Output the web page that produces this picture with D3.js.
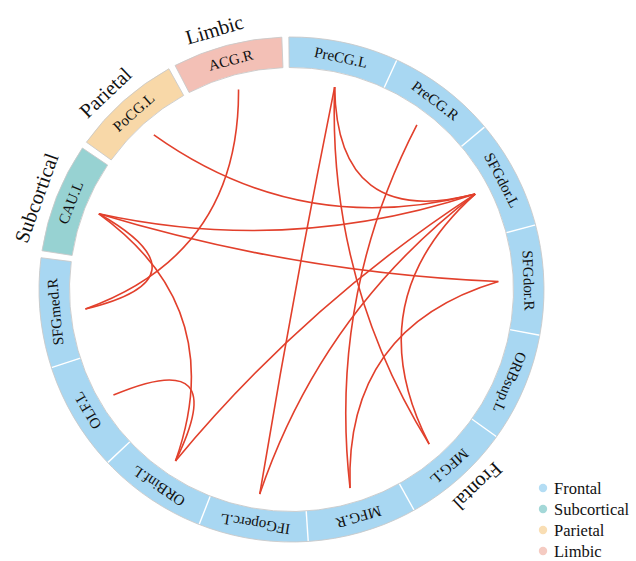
<!DOCTYPE html>
<html>
<head>
<meta charset="utf-8">
<script src="https://cdn.jsdelivr.net/npm/d3@7"></script>
<style>
  html, body { margin: 0; padding: 0; background: #ffffff; }
  svg { display: block; }
</style>
</head>
<body>
<svg id="chart" width="636" height="561"></svg>
<script>
// Brain regions around the ring, in clockwise order starting at 12 o'clock
const regions = [
  "PreCG.L", "PreCG.R", "SFGdor.L", "SFGdor.R", "ORBsup.L", "MFG.L", "MFG.R",
  "IFGoperc.L", "ORBinf.L", "OLF.L", "SFGmed.R", "CAU.L", "PoCG.L", "ACG.R"
];
const regionGroups = [
  "Frontal", "Frontal", "Frontal", "Frontal", "Frontal", "Frontal", "Frontal",
  "Frontal", "Frontal", "Frontal", "Frontal", "Subcortical", "Parietal", "Limbic"
];

// Lobes and their colours
const groups = ["Frontal", "Subcortical", "Parietal", "Limbic"];
const groupColors = ["#A8D7F2", "#97D2D2", "#F8D8A8", "#F3C0B6"];
const legendColors = ["#B4DDF4", "#A4D8D8", "#F9DEB4", "#F5CBC2"];

// Connections between regions
const linkSources = [
  "ACG.R", "PoCG.L", "CAU.L", "CAU.L", "CAU.L", "CAU.L", "OLF.L", "ORBinf.L",
  "IFGoperc.L", "IFGoperc.L", "MFG.R", "MFG.R", "MFG.L", "MFG.L", "PreCG.L"
];
const linkTargets = [
  "SFGmed.R", "SFGdor.L", "SFGdor.L", "SFGdor.R", "SFGmed.R", "ORBinf.L", "ORBinf.L", "SFGdor.L",
  "PreCG.L", "SFGdor.L", "PreCG.R", "SFGdor.R", "PreCG.L", "SFGdor.L", "SFGdor.L"
];

// ---- geometry ----
const cx = 291.5, cy = 289.5;
const rOuter = 252.5, rInner = 222, rLink = 207;
const rad = Math.PI / 180;
const groupGap = 1.6 * rad;            // gap between lobes
const startAngle = -0.6 * rad;          // where the first region begins
const segWidth = (2 * Math.PI - groups.length * groupGap) / regions.length;

// angular layout of each region
const layout = [];
{
  let a = startAngle;
  regions.forEach((name, i) => {
    if (i > 0 && regionGroups[i] !== regionGroups[i - 1]) a += groupGap;
    layout.push({ name, group: regionGroups[i], start: a, end: a + segWidth, mid: a + segWidth / 2 });
    a += segWidth;
  });
}
const byName = new Map(layout.map(d => [d.name, d]));
const color = d3.scaleOrdinal().domain(groups).range(groupColors);
const legendColor = d3.scaleOrdinal().domain(groups).range(legendColors);

// group extents
const groupLayout = groups.map(g => {
  const segs = layout.filter(d => d.group === g);
  const start = d3.min(segs, d => d.start), end = d3.max(segs, d => d.end);
  return { group: g, start, end, mid: (start + end) / 2, segs };
});

const svg = d3.select("#chart");
const root = svg.append("g").attr("transform", `translate(${cx},${cy})`);

const arc = d3.arc().innerRadius(rInner).outerRadius(rOuter);
const polar = (r, a) => [r * Math.sin(a), -r * Math.cos(a)];

// ---- links ----
const linkData = linkSources.map((s, i) => ({ source: byName.get(s), target: byName.get(linkTargets[i]) }));
const bend = 0.4; // control point sits at this fraction of the chord midpoint
root.append("g").attr("class", "links")
  .selectAll("path").data(linkData).join("path")
  .attr("d", d => {
    const p0 = polar(rLink, d.source.mid);
    const p1 = polar(rLink, d.target.mid);
    const c = [(p0[0] + p1[0]) / 2 * bend, (p0[1] + p1[1]) / 2 * bend];
    const p = d3.path();
    p.moveTo(p0[0], p0[1]);
    p.quadraticCurveTo(c[0], c[1], p1[0], p1[1]);
    return p.toString();
  })
  .attr("fill", "none")
  .attr("stroke", "#E2402C")
  .attr("stroke-width", 1.6);

// ---- ring segments ----
const ring = root.append("g").attr("class", "ring");
ring.selectAll("path.seg").data(layout).join("path")
  .attr("class", "seg")
  .attr("d", d => arc({ startAngle: d.start, endAngle: d.end }))
  .attr("fill", d => color(d.group));

// white separators between neighbouring regions of the same lobe
const seps = layout.filter((d, i) => i > 0 && layout[i - 1].group === d.group);
ring.selectAll("line.sep").data(seps).join("line")
  .attr("class", "sep")
  .attr("x1", d => polar(rInner, d.start)[0]).attr("y1", d => polar(rInner, d.start)[1])
  .attr("x2", d => polar(rOuter, d.start)[0]).attr("y2", d => polar(rOuter, d.start)[1])
  .attr("stroke", "#ffffff").attr("stroke-width", 1.4);

// soft outline around each lobe
ring.selectAll("path.outline").data(groupLayout).join("path")
  .attr("class", "outline")
  .attr("d", d => arc({ startAngle: d.start, endAngle: d.end }))
  .attr("fill", "none")
  .attr("stroke", "#c9c9c9")
  .attr("stroke-width", 0.9);

// region labels, written along the ring
const rLabel = (rInner + rOuter) / 2;
ring.selectAll("text.region").data(layout).join("text")
  .attr("class", "region")
  .attr("transform", d => `rotate(${d.mid / rad}) translate(0,${-rLabel})`)
  .attr("text-anchor", "middle")
  .attr("dominant-baseline", "central")
  .attr("font-family", "'Liberation Serif', 'Times New Roman', serif")
  .attr("font-size", 15)
  .attr("fill", "#111")
  .text(d => d.name);

// lobe names outside the ring
const rGroup = 271;
const groupShift = -1.7 * rad;
root.append("g").attr("class", "group-labels")
  .selectAll("text").data(groupLayout).join("text")
  .attr("transform", d => `rotate(${(d.mid + groupShift) / rad}) translate(0,${-rGroup})`)
  .attr("text-anchor", "middle")
  .attr("dominant-baseline", "central")
  .attr("font-family", "'Liberation Serif', 'Times New Roman', serif")
  .attr("font-size", 20.5)
  .attr("fill", "#111")
  .text(d => d.group);

// ---- legend ----
const legend = svg.append("g").attr("transform", "translate(543,488)");
const legendY = d3.scalePoint().domain(groups).range([0, 63]);
const items = legend.selectAll("g").data(groups).join("g")
  .attr("transform", d => `translate(0,${legendY(d)})`);
items.append("circle").attr("r", 4.2).attr("fill", d => legendColor(d));
items.append("text")
  .attr("x", 11)
  .attr("dominant-baseline", "central")
  .attr("font-family", "'Liberation Serif', 'Times New Roman', serif")
  .attr("font-size", 16.5)
  .attr("fill", "#111")
  .text(d => d);
</script>
</body>
</html>
